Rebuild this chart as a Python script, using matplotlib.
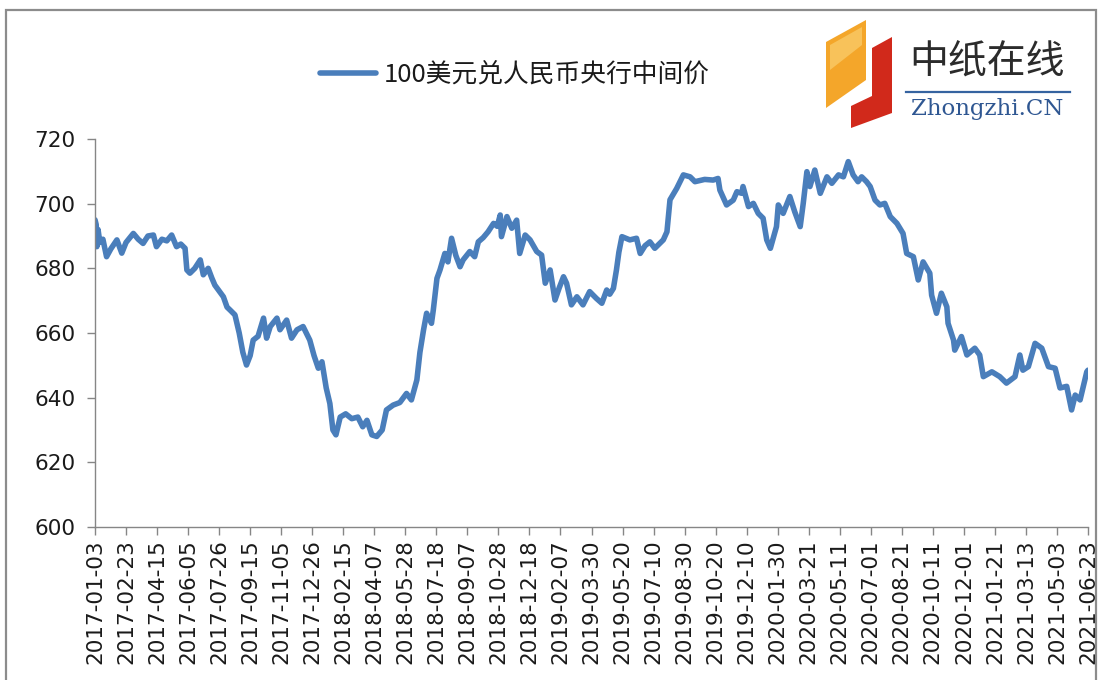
import matplotlib
matplotlib.use("Agg")
import matplotlib.pyplot as plt
import matplotlib.dates as mdates
from matplotlib.patches import Polygon, Rectangle
from matplotlib.lines import Line2D
import pandas as pd

# ---------------- data ----------------
start_date = "2017-01-03"
end_date = "2021-06-23"
tick_step_days = 51
series_name = "100美元兑人民币央行中间价"

day_offsets = [0, 2, 3, 5, 8, 13, 19, 26, 36, 44, 51, 63, 71, 79, 87, 96, 101, 110, 118, 126,
               134, 141, 148, 151, 156, 164, 173, 178, 186, 192, 197, 204, 211, 217, 222, 230,
               237, 243, 249, 255, 260, 268, 277, 282, 288, 299, 304, 315, 323, 332, 342, 353,
               360, 367, 373, 380, 386, 391, 396, 403, 412, 422, 432, 440, 447, 455, 463, 472,
               479, 490, 501, 512, 520, 524, 529, 534, 540, 545, 553, 556, 562, 567, 575, 580,
               586, 593, 600, 605, 616, 624, 630, 638, 646, 655, 661, 666, 668, 677, 685, 693,
               698, 707, 715, 726, 734, 740, 748, 756, 763, 770, 775, 783, 792, 802, 813, 824,
               833, 841, 846, 852, 857, 861, 866, 879, 890, 896, 904, 912, 920, 934, 940, 945,
               956, 967, 978, 986, 1002, 1016, 1024, 1027, 1038, 1049, 1055, 1063, 1065, 1074,
               1082, 1090, 1098, 1104, 1110, 1120, 1123, 1131, 1142, 1150, 1159, 1164, 1170,
               1175, 1183, 1192, 1203, 1211, 1222, 1230, 1238, 1246, 1254, 1260, 1268, 1274,
               1282, 1290, 1298, 1307, 1318, 1328, 1334, 1345, 1353, 1361, 1372, 1375, 1383,
               1391, 1400, 1402, 1411, 1413, 1424, 1433, 1446, 1454, 1460, 1474, 1487, 1498,
               1512, 1520, 1525, 1534, 1545, 1556, 1567, 1578, 1586, 1597, 1605, 1611, 1619,
               1630, 1632]

rate_values = [695.0, 693.5, 686.7, 692.0, 688.0, 689.0, 683.6, 686.0, 688.8, 684.7, 688.0, 690.8,
               689.0, 687.7, 690.0, 690.3, 686.7, 689.0, 688.5, 690.3, 686.7, 687.5, 686.2, 679.5,
               678.5, 680.0, 682.6, 678.0, 680.0, 677.0, 674.8, 673.0, 671.2, 668.0, 667.1, 665.6,
               660.0, 654.0, 650.1, 653.0, 657.8, 659.0, 664.6, 658.4, 662.0, 664.6, 661.0, 664.0,
               658.4, 661.0, 662.0, 657.8, 653.0, 649.1, 651.1, 643.0, 638.2, 630.0, 628.5, 634.0,
               635.0, 633.5, 634.0, 631.0, 633.0, 628.5, 628.0, 630.0, 636.2, 637.7, 638.5, 641.3,
               639.3, 642.0, 645.5, 654.0, 661.0, 666.1, 663.0, 667.1, 676.9, 679.5, 684.6, 682.0,
               689.3, 684.0, 680.5, 682.6, 685.2, 683.6, 688.2, 689.5, 691.3, 693.9, 693.0, 696.5,
               689.8, 696.0, 692.4, 694.9, 684.6, 690.3, 688.8, 685.2, 684.1, 675.4, 679.5, 670.2,
               674.0, 677.4, 675.4, 668.7, 671.2, 668.7, 672.8, 670.7, 669.2, 673.3, 672.0, 673.8,
               679.5, 685.0, 689.8, 688.8, 689.3, 684.6, 687.0, 688.2, 686.2, 688.8, 691.3, 701.2,
               704.7, 708.9, 708.3, 706.8, 707.5, 707.3, 707.8, 704.2, 699.6, 701.1, 703.7, 703.2,
               705.3, 699.1, 700.1, 697.0, 695.5, 688.8, 686.2, 692.9, 699.6, 697.0, 702.2, 697.5,
               692.9, 700.1, 709.9, 705.3, 710.4, 703.2, 708.3, 706.3, 708.9, 708.3, 713.0, 708.9,
               706.8, 708.3, 706.8, 705.3, 701.1, 699.6, 700.1, 696.0, 693.9, 690.8, 684.6, 683.6,
               676.4, 682.0, 678.5, 671.7, 666.1, 672.3, 668.1, 663.0, 657.8, 654.7, 658.9, 653.2,
               655.3, 653.2, 646.5, 648.0, 646.5, 644.5, 646.5, 653.2, 648.5, 649.6, 656.8, 655.3,
               649.6, 649.1, 643.0, 643.5, 636.2, 640.8, 639.3, 648.0, 648.5]

y_ticks = [600, 620, 640, 660, 680, 700, 720]

# ---------------- figure ----------------
W, H = 1100, 680
fig = plt.figure(figsize=(11, 6.8), dpi=100)
fig.patch.set_facecolor("white")

def fx(px):
    return px / W

def fy(py):
    return 1 - py / H

ax = fig.add_axes([fx(95), fy(527), fx(1088) - fx(95), fy(139) - fy(527)])

dates = pd.Timestamp(start_date) + pd.to_timedelta(day_offsets, unit="D")
line_color = "#4a7ebb"
ax.plot(dates, rate_values, color=line_color, lw=4.0, solid_joinstyle="round",
        solid_capstyle="round", label=series_name)

ax.set_ylim(600, 720)
ax.set_yticks(y_ticks)
ticks = pd.date_range(start_date, end_date, freq=f"{tick_step_days}D")
ax.set_xlim(pd.Timestamp(start_date), pd.Timestamp(end_date))
ax.set_xticks(ticks)
ax.set_xticklabels([t.strftime("%Y-%m-%d") for t in ticks], rotation=90)

for s in ["top", "right"]:
    ax.spines[s].set_visible(False)
for s in ["left", "bottom"]:
    ax.spines[s].set_color("#868686")
    ax.spines[s].set_linewidth(1.0)
ax.tick_params(axis="both", direction="out", length=6, color="#868686", width=1.0,
               labelcolor="#1a1a1a")
ax.tick_params(axis="y", labelsize=15.5, pad=8)
ax.tick_params(axis="x", labelsize=15.5, pad=3)

# legend
leg = ax.legend(loc="center", bbox_to_anchor=(fx(515), fy(75)), bbox_transform=fig.transFigure,
                frameon=False, handlelength=2.2, handletextpad=0.3,
                prop={"family": ["Noto Sans CJK SC", "DejaVu Sans"], "size": 18.5})
for t in leg.get_texts():
    t.set_color("#1a1a1a")

# outer chart border
fig.add_artist(Rectangle((fx(6), fy(692)), fx(1096) - fx(6), fy(10) - fy(692),
                         transform=fig.transFigure, fill=False, edgecolor="#8c8c8c",
                         lw=1.6, clip_on=False))

# logo
def poly(pts, color):
    fig.add_artist(Polygon([(fx(x), fy(y)) for x, y in pts], closed=True,
                           transform=fig.transFigure, facecolor=color, edgecolor="none"))

poly([(826, 42), (866, 20), (866, 80), (826, 108)], "#f4a62a")
poly([(830, 45), (862, 27), (862, 45), (830, 70)], "#f8c25a")
poly([(872, 48), (892, 37), (892, 113), (851, 128), (851, 106), (872, 96)], "#d1291b")

fig.text(fx(987), fy(63), "中纸在线", ha="center", va="center", fontsize=28,
         family=["Noto Sans CJK SC", "DejaVu Sans"], color="#2b2b2b", fontweight="light")
fig.add_artist(Line2D([fx(906), fx(1070)], [fy(92), fy(92)], transform=fig.transFigure,
                      color="#3563a0", lw=1.6))
fig.text(fx(987), fy(109), "Zhongzhi.CN", ha="center", va="center", fontsize=16.5,
         family="DejaVu Serif", color="#2f5792")

fig.savefig("out.png", dpi=100, facecolor="white")
